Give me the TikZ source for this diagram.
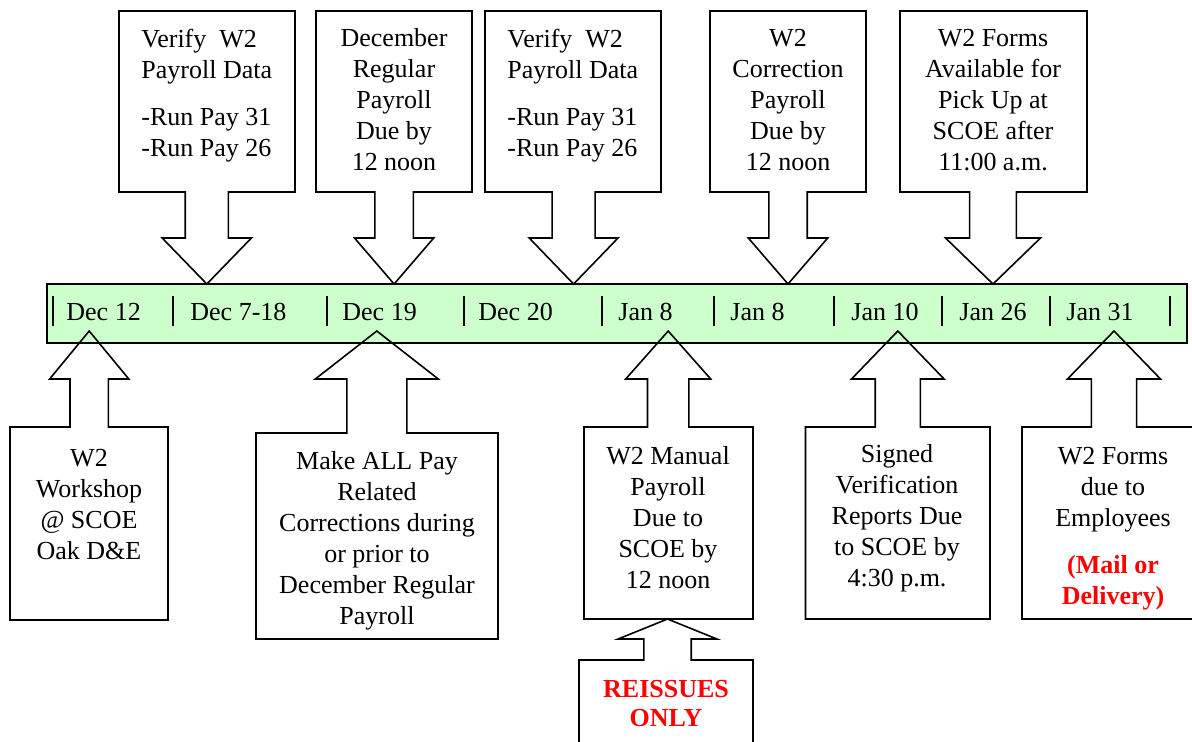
\documentclass[tikz,border=0pt]{standalone}
\usepackage{fontspec}
\setmainfont{Liberation Serif}
\definecolor{BarClr}{rgb}{0.8,1,0.8}
\definecolor{NoteClr}{rgb}{1,0,0}

% box with a block arrow: tip x, tip y, head base y, box edge y,
% shaft half width, head half width, box left, box right, box far y
\newcommand{\DrawNote}[9]{%
  \draw[noteline] (#7,#4) -- ({#1-#5},#4) -- ({#1-#5},#3) -- ({#1-#6},#3)
    -- (#1,#2) -- ({#1+#6},#3) -- ({#1+#5},#3) -- ({#1+#5},#4)
    -- (#8,#4) -- (#8,#9) -- (#7,#9) -- cycle;}
\newcommand{\NoteTxt}[1]{\textcolor{NoteClr}{\bfseries #1}}

\begin{document}
\begin{tikzpicture}[x=0.5pt,y=-0.5pt,
  noteline/.style={line width=0.8pt,color=black,line join=miter},
  boxtext/.style={align=center,inner sep=0pt,font=\fontsize{13}{15.5}\selectfont},
  datelabel/.style={anchor=base west,inner sep=0pt,font=\fontsize{13}{15.5}\selectfont}]
\useasboundingbox (0,0) rectangle (1192,741);

% time line
\draw[noteline,fill=BarClr] (47,284) rectangle (1187,343);
\foreach \x in {53,173,327,464,602,714,834,942,1050,1170}
  \draw[line width=1.1pt] (\x,296) -- (\x,326);
\foreach \x/\d [count=\i] in {66/Dec 12,190/Dec 7-18,342/Dec 19,478/Dec 20,
    618/Jan 8,730/Jan 8,851/Jan 10,959/Jan 26,1066/Jan 31}
  \node[datelabel] (d\i) at (\x,320) {\d};

% notes above
\DrawNote{206.8}{284}{238}{192}{21.6}{44.6}{119}{295}{11}
\DrawNote{394.1}{284}{238}{192}{19.2}{39.6}{316}{472}{11}
\DrawNote{573.6}{284}{238}{192}{21.5}{44.4}{485}{661}{11}
\DrawNote{788}{284}{238}{192}{19.2}{39.7}{710}{866}{11}
\DrawNote{993}{284}{238}{192}{23.4}{47.5}{900}{1087}{11}

\node[boxtext,align=left,anchor=west] (t1) at (141,96)
  {Verify\ \ W2\\Payroll Data\\[8pt]-Run Pay 31\\-Run Pay 26};
\node[boxtext] (t2) at (394,100) {December\\Regular\\Payroll\\Due by\\12 noon};
\node[boxtext,align=left,anchor=west] (t3) at (507,96)
  {Verify\ \ W2\\Payroll Data\\[8pt]-Run Pay 31\\-Run Pay 26};
\node[boxtext] (t4) at (788,100) {W2\\Correction\\Payroll\\Due by\\12 noon};
\node[boxtext] (t5) at (993,100) {W2 Forms\\Available for\\Pick Up at\\SCOE after\\11:00 a.m.};

% notes below
\DrawNote{89.2}{331}{379}{427}{19.2}{39.6}{10}{168}{620}
\DrawNote{376.8}{331}{379}{433}{30}{61.5}{256}{498}{639}
\DrawNote{668.2}{331}{379}{427}{20.7}{42.5}{584}{753}{619}
\DrawNote{897.8}{331}{379}{427}{22.6}{46.3}{805.5}{990}{619}
\DrawNote{1114}{331}{379}{427}{22.6}{46.5}{1022}{1196}{619}
\DrawNote{667.5}{619}{639}{660}{23.7}{49.4}{579}{753}{746}

\node[boxtext] (b1) at (89,505) {W2\\Workshop\\@ SCOE\\Oak D\&E};
\node[boxtext] (b2) at (377,541)
  {Make ALL Pay\\Related\\Corrections during\\or prior to\\December Regular\\Payroll};
\node[boxtext] (b3) at (668,518) {W2 Manual\\Payroll\\Due to\\SCOE by\\12 noon};
\node[boxtext] (b4) at (897,518) {Signed\\Verification\\Reports Due\\to SCOE by\\4:30 p.m.};
\node[boxtext] (b5) at (1113,529)
  {W2 Forms\\due to\\Employees\\[8pt]\NoteTxt{(Mail or}\\\NoteTxt{Delivery)}};
\node[boxtext,text=NoteClr,font=\fontsize{13}{14.5}\selectfont\bfseries] (r1) at (666,703)
  {REISSUES\\ONLY};

\end{tikzpicture}
\end{document}
